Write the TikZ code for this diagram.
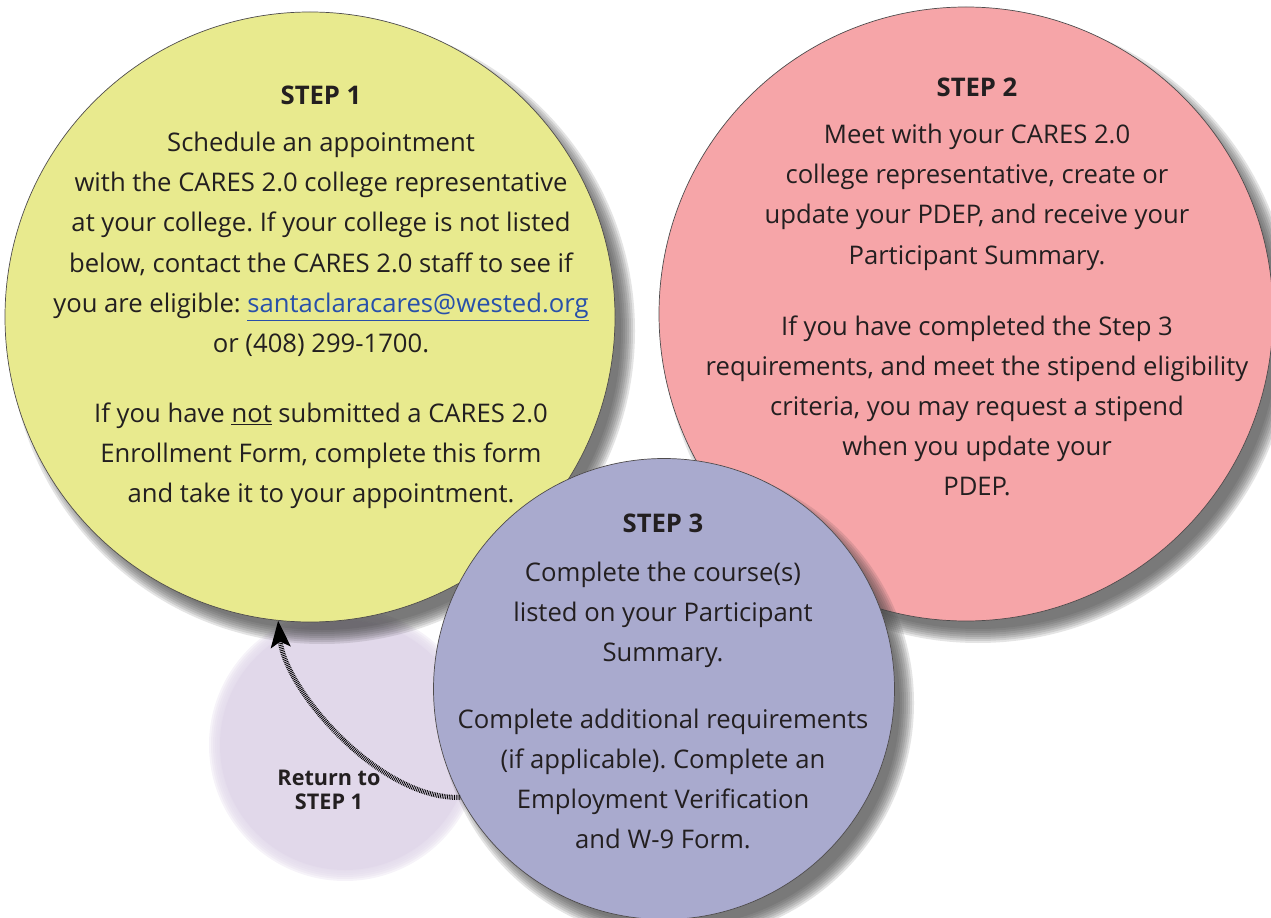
\documentclass[tikz,border=0pt]{standalone}
\usepackage{fontspec}
\setmainfont{Open Sans}
\usepackage{tikz}
\usetikzlibrary{arrows.meta}
\frenchspacing

\definecolor{yellowfill}{RGB}{232,234,142}
\definecolor{pinkfill}{RGB}{246,165,168}
\definecolor{bluefill}{RGB}{169,170,206}
\definecolor{lavfill}{RGB}{225,216,234}
\definecolor{linkblue}{RGB}{40,80,170}
\definecolor{inkgrey}{RGB}{35,31,32}

\tikzset{
    stepcircle/.style={circle, draw=inkgrey!80, line width=0.4pt, inner sep=0pt},
    steptext/.style={anchor=north, align=center, text=inkgrey,
        font=\fontsize{14.6}{22.8}\selectfont},
    returnarrow/.style={line width=2.8pt, dash pattern=on 0.45pt off 0.55pt,
        -{Stealth[length=15pt, width=11pt, inset=3pt]}},
}

% soft shadow under a circle: centre x, centre y, radius (px)
\newcommand{\softshadow}[3]{%
    \foreach \k in {0,...,7}
        \fill[black!75, fill opacity=0.14] (#1+12,#2+14) circle[radius=(#3+8-2*\k)*0.02cm];
}

\begin{document}
\begin{tikzpicture}[x=0.02cm, y=-0.02cm]
    \useasboundingbox (0,0) rectangle (1271,918);

    % faint circle behind the return arrow
    \foreach \k in {0,...,5}
        \fill[lavfill, fill opacity=0.3] (345,745) circle[radius=(136-2*\k)*0.02cm];
    \node[circle, fill=lavfill, minimum size=250*0.02cm, inner sep=0pt] (back) at (345,745) {};

    \softshadow{310}{317}{305}
    \node[stepcircle, fill=yellowfill, minimum size=610*0.02cm] (s1) at (310,317) {};
    \softshadow{966}{314}{307}
    \node[stepcircle, fill=pinkfill, minimum size=614*0.02cm] (s2) at (966,314) {};
    \softshadow{664}{689}{230}
    \node[stepcircle, fill=bluefill, minimum size=461*0.02cm] (s3) at (664,689) {};

    \node[steptext] (t1) at (321,80) {%
        \textbf{STEP 1}\\[4pt]
        Schedule an appointment\\
        with the CARES 2.0 college representative\\
        at your college. If your college is not listed\\
        below, contact the CARES 2.0 staff to see if\\
        you are eligible: \textcolor{linkblue}{\underline{santaclaracares@wested.org}}\\
        or (408) 299-1700.\\[17pt]
        If you have \underline{not} submitted a CARES 2.0\\
        Enrollment Form, complete this form\\
        and take it to your appointment.};

    \node[steptext] (t2) at (977,72) {%
        \textbf{STEP 2}\\[4pt]
        Meet with your CARES 2.0\\
        college representative, create or\\
        update your PDEP, and receive your\\
        Participant Summary.\\[18pt]
        If you have completed the Step 3\\
        requirements, and meet the stipend eligibility\\
        criteria, you may request a stipend\\
        when you update your\\
        PDEP.};

    \node[steptext] (t3) at (663,508) {%
        \textbf{STEP 3}\\[5pt]
        Complete the course(s)\\
        listed on your Participant\\
        Summary.\\[15pt]
        Complete additional requirements\\
        (if applicable). Complete an\\
        Employment Verification\\
        and W-9 Form.};

    \node[align=center, text=inkgrey, font=\fontsize{12.3}{14}\selectfont\bfseries] (ret) at (329,790) {Return to\\STEP 1};

    \draw[returnarrow] (s3.208) .. controls (380,800) and (285,690) .. (s1.264);
\end{tikzpicture}
\end{document}
